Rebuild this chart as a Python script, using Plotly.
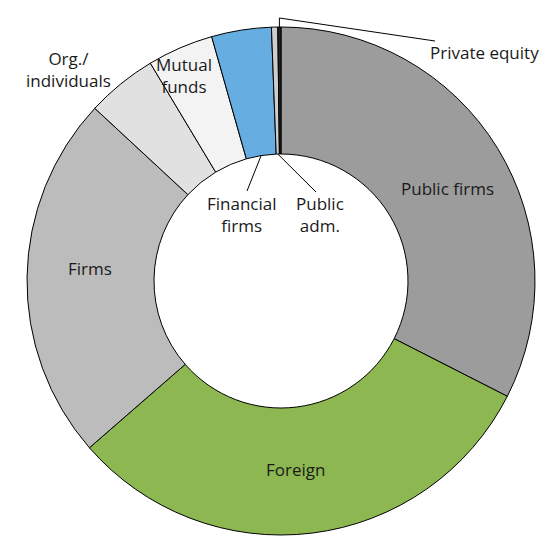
import math
import plotly.graph_objects as go

# ownership shares (%), clockwise from 12 o'clock
labels = ["Public firms", "Foreign", "Firms", "Org./individuals", "Mutual funds",
          "Financial firms", "Public adm.", "Private equity"]
shares = [32.5, 31.1, 23.3, 4.5, 4.2, 3.8, 0.4, 0.2]
colors = ["#9c9c9c", "#8db751", "#bcbcbc", "#e1e1e1", "#f3f3f3",
          "#66aee2", "#cdcdcd", "#222222"]

FONT = "Open Sans"
W = H = 560
OFF = 8  # page body margin
L, R, T, B = 27 - OFF, 25 + OFF, 27 - OFF, 25 + OFF
CX, CY = 27 + (W - 52) / 2, 27 + (H - 52) / 2   # on-screen pixels
R_OUT = (W - 52) / 2
R_IN = R_OUT * 0.5


def px(x):
    return (x - OFF - L) / (W - L - R)


def py(y):
    return (H - B - (y - OFF)) / (H - T - B)


def edge(i, r):
    """screen point at radius r on the middle angle of slice i"""
    mid = (sum(shares[:i]) + shares[i] / 2) / sum(shares) * 2 * math.pi
    return CX + r * math.sin(mid), CY - r * math.cos(mid)


fig = go.Figure(go.Pie(
    labels=labels, values=shares, textinfo="none",
    sort=False, direction="clockwise", rotation=0, hole=0.5,
    marker=dict(colors=colors, line=dict(color="black", width=1)),
    hoverinfo="label+value", showlegend=False,
))

notes = [
    ("Public firms", 447, 188),
    ("Foreign", 295, 469),
    ("Firms", 90, 268),
    ("Org./<br>individuals", 68, 70),
    ("Mutual<br>funds", 184, 75),
    ("Financial<br>firms", 242, 214),
    ("Public<br>adm.", 320, 214),
    ("Private equity", 484, 52),
]
annotations = [dict(text=t, x=px(x), y=py(y), xref="paper", yref="paper",
                    xanchor="center", yanchor="middle", showarrow=False,
                    font=dict(family=FONT, size=17, color="#1a1a1a"))
               for t, x, y in notes]

# leader lines
segs = []
x0, y0 = edge(5, R_IN)
segs.append((x0, y0, 247, 191))
x0, y0 = edge(6, R_IN)
segs.append((x0, y0, 316, 192))
x0, y0 = edge(7, R_OUT)
segs.append((x0, y0, x0, 18))
segs.append((x0, 18, 435, 41))
shapes = [dict(type="line", xref="paper", yref="paper",
               x0=px(a), y0=py(b), x1=px(c), y1=py(d),
               line=dict(color="black", width=1))
          for a, b, c, d in segs]

fig.update_layout(width=W, height=H, margin=dict(l=L, r=R, t=T, b=B),
                  paper_bgcolor="white", plot_bgcolor="white",
                  annotations=annotations, shapes=shapes)
fig.write_html("out.html")
